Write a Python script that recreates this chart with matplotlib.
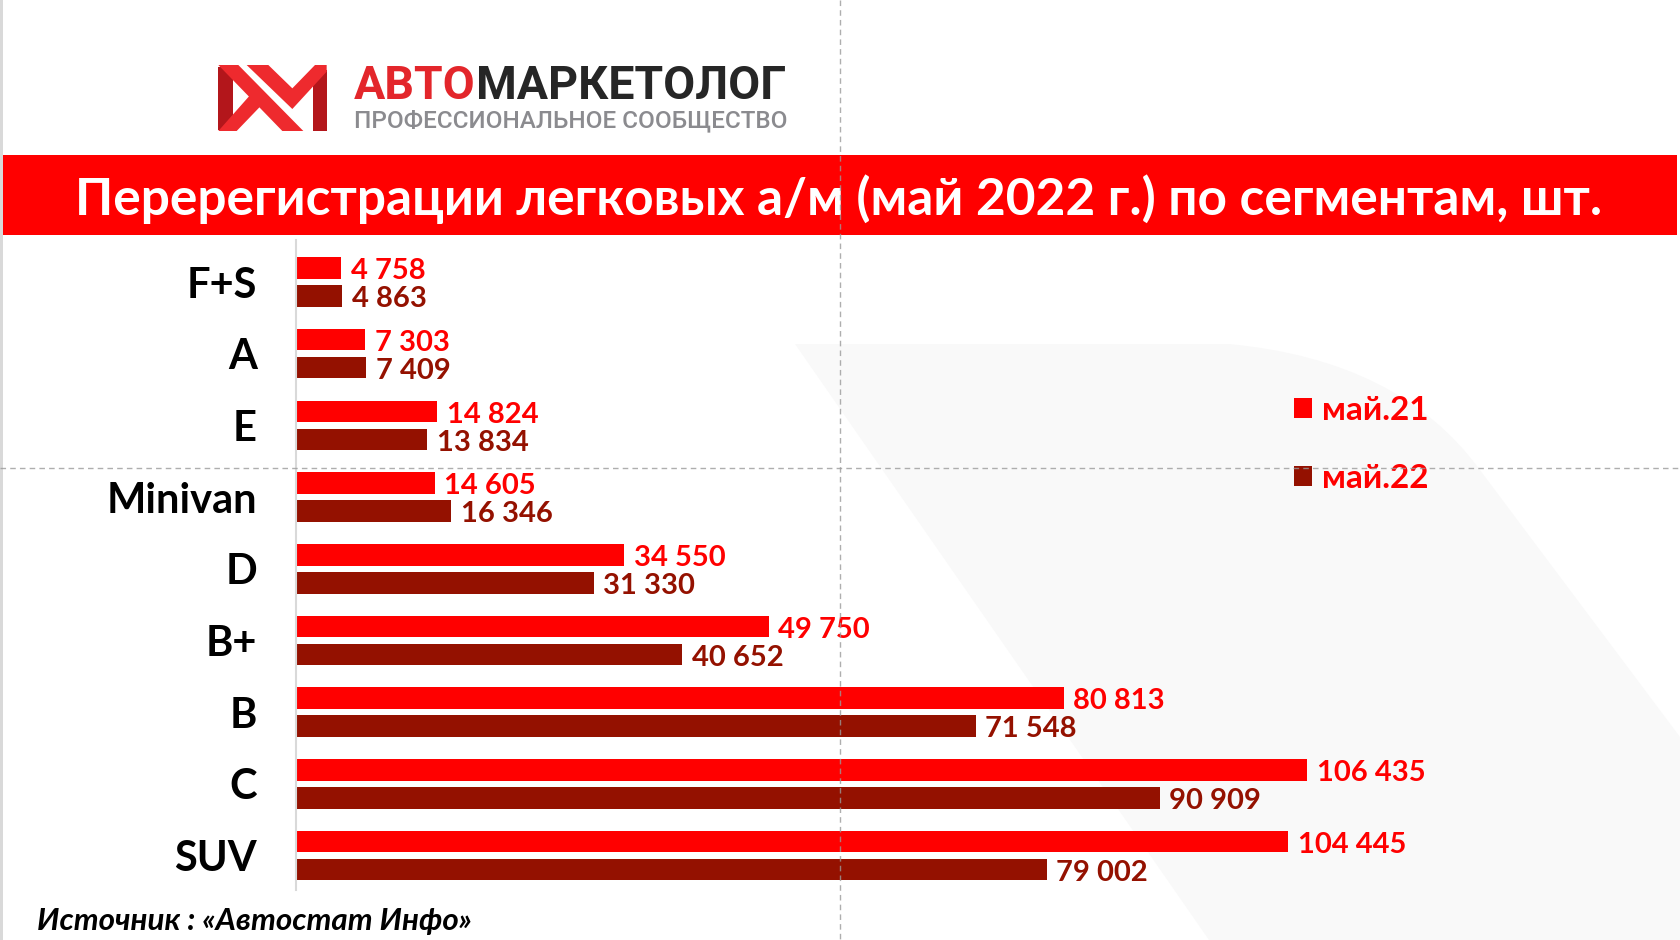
import numpy as np
import matplotlib.pyplot as plt
from matplotlib.patches import Polygon, Rectangle, PathPatch
from matplotlib.path import Path

W, H = 1680, 940

# данные
segments = ['F+S', 'A', 'E', 'Minivan', 'D', 'B+', 'B', 'C', 'SUV']
may21 = [4758, 7303, 14824, 14605, 34550, 49750, 80813, 106435, 104445]
may22 = [4863, 7409, 13834, 16346, 31330, 40652, 71548, 90909, 79002]
series_names = ['май.21', 'май.22']
title = 'Перерегистрации легковых а/м (май 2022 г.) по сегментам, шт.'
source = 'Источник : «Автостат Инфо»'

RED = '#ff0000'
DARK = '#941100'

fig = plt.figure(figsize=(W / 100, H / 100), dpi=100)

# фон / оформление в пикселях
bg = fig.add_axes([0, 0, 1, 1], zorder=0)
bg.set_xlim(0, W)
bg.set_ylim(H, 0)
bg.axis('off')

# бледная фигура на фоне
verts = [(795, 344), (1229, 344), (1400, 360), (1480, 470), (1680, 737),
         (1680, 940), (1209, 940), (795, 344)]
codes = [Path.MOVETO, Path.LINETO, Path.CURVE3, Path.CURVE3, Path.LINETO,
         Path.LINETO, Path.LINETO, Path.CLOSEPOLY]
bg.add_patch(PathPatch(Path(verts, codes), fc='#f9f9f9', ec='none'))

# левая серая граница
bg.add_patch(Rectangle((0, 0), 3, H, fc='#d9d9d9', ec='none'))

# логотип
def lp(pts):
    return [(205 + x / 3, 55 + y / 3) for x, y in pts]

bright, dark = '#ee2a2e', '#b3161b'
bg.add_patch(Polygon(lp([(40, 35), (85, 35), (85, 225), (40, 225)]), fc=dark, ec='none'))
bg.add_patch(Polygon(lp([(325, 45), (365, 45), (365, 228), (325, 228)]), fc=dark, ec='none'))
bg.add_patch(Polygon(lp([(40, 228), (95, 228), (170, 150), (140, 115)]), fc=bright, ec='none'))
bg.add_patch(Polygon(lp([(40, 30), (100, 30), (295, 228), (232, 228)]), fc=bright, ec='none'))
bg.add_patch(Polygon(lp([(125, 30), (190, 30), (262, 100), (330, 30), (365, 30),
                         (365, 50), (262, 162)]), fc=bright, ec='none'))

t1 = bg.text(354, 86, 'АВТО', color='#e3262b', fontsize=33.5, fontweight='bold',
             family='Roboto', va='center', ha='left')
bg.annotate('МАРКЕТОЛОГ', xy=(1, 0), xycoords=t1, color='#262626', fontsize=33.5,
            fontweight='bold', family='Roboto', va='bottom', ha='left')
bg.text(354, 121, 'ПРОФЕССИОНАЛЬНОЕ СООБЩЕСТВО', color='#8b8b8f', fontsize=17.5,
        fontweight='medium', family='Roboto', va='center', ha='left')

# заголовок
bg.add_patch(Rectangle((3, 155), W - 6, 80, fc=RED, ec='none'))
bg.text(839, 199, title, color='white', fontsize=37, fontweight='bold',
        family='Lato', ha='center', va='center')

# источник
bg.text(37, 921, source, color='black', fontsize=22.6, fontweight='bold',
        style='italic', family='Lato', ha='left', va='center')

# график
ax = fig.add_axes([296 / W, 1 - 890 / H, 1140 / W, 650 / H], zorder=1)
ax.patch.set_alpha(0)
y = np.arange(len(segments))
off, bh = 0.195, 0.30
b1 = ax.barh(y - off, may21, height=bh, color=RED, label=series_names[0])
b2 = ax.barh(y + off, may22, height=bh, color=DARK, label=series_names[1])
fmt = lambda v: f'{v:,}'.replace(',', ' ')
for vals, yy, col in [(may21, y - off, RED), (may22, y + off, DARK)]:
    for v, yi in zip(vals, yy):
        ax.annotate(fmt(v), xy=(v, yi), xytext=(7, -2.3), textcoords='offset points',
                    ha='left', va='center', color=col, fontsize=21,
                    fontweight='bold', family='Lato')
ax.set_xlim(0, 120000)
ax.set_ylim(8.48, -0.586)
ax.set_yticks(y)
ax.set_yticklabels(segments, fontsize=30, fontweight='bold', family='Lato')
ax.tick_params(axis='y', length=0, pad=28)
ax.set_xticks([])
for s in ['top', 'right', 'bottom']:
    ax.spines[s].set_visible(False)
ax.spines['left'].set_color('#d9d9d9')
ax.spines['left'].set_linewidth(1.5)

leg = ax.legend(handles=[b1, b2], loc='upper left', bbox_to_anchor=(1294 / W, 1 - 396 / H),
                bbox_transform=fig.transFigure, frameon=False,
                prop={'family': 'Lato', 'weight': 'bold', 'size': 24},
                handlelength=0.55, handleheight=0.55, handletextpad=0.3,
                labelspacing=1.17, borderpad=0, borderaxespad=0, labelcolor=RED)

# направляющие пунктиром сверху
ov = fig.add_axes([0, 0, 1, 1], zorder=3)
ov.set_xlim(0, W)
ov.set_ylim(H, 0)
ov.axis('off')
ov.plot([840, 840], [0, H], color='#9a9a9a', lw=1, ls=(0, (4, 3)), alpha=0.8)
ov.plot([0, W], [468, 468], color='#9a9a9a', lw=1, ls=(0, (4, 3)), alpha=0.8)

fig.savefig('out.png', dpi=100)
